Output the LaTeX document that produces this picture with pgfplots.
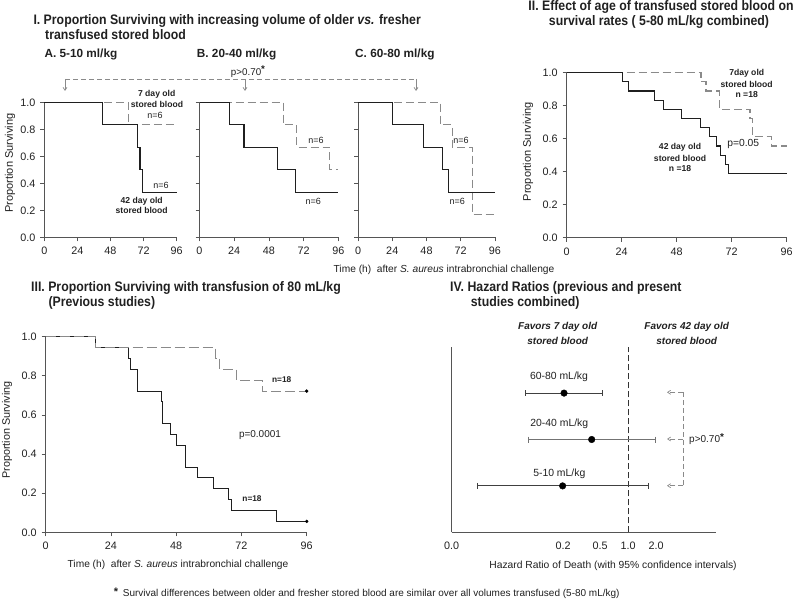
\documentclass[border=0pt]{standalone}
\usepackage{fontspec}
\setmainfont{Liberation Sans}
\usepackage{pgfplots}
\pgfplotsset{compat=1.18}
\usetikzlibrary{arrows.meta}
\definecolor{axgray}{HTML}{555555}
\definecolor{dgray}{HTML}{8A8A8A}
\definecolor{txt}{HTML}{202020}
\newcommand{\fT}{\fontsize{12.3}{14}\selectfont\bfseries}
\newcommand{\fS}{\fontsize{11.8}{14}\selectfont\bfseries}
\newcommand{\fL}{\fontsize{10.4}{12}\selectfont}
\newcommand{\fB}{\fontsize{8.6}{10}\selectfont\bfseries}
\newcommand{\fN}{\fontsize{9}{10}\selectfont}
\tikzset{ttl/.style={text=txt, inner sep=0, yscale=1.12, transform shape}}
\pgfplotsset{
 base/.style={
  scale only axis, anchor=south west, axis lines=left,
  axis line style={draw=axgray, line width=0.8pt, -},
  tick style={draw=axgray, line width=0.7pt}, tick align=outside, major tick length=4pt,
  ticklabel style={font=\fontsize{10.8}{12}\selectfont, text=txt},
  /pgf/number format/assume math mode=true,
  clip=false,
 },
 km/.style={base,
  xmin=0,xmax=96,ymin=0,ymax=1,
  xtick={0,24,48,72,96}, xticklabels={0,24,48,72,96},
  ytick={0,0.2,0.4,0.6,0.8,1},
  xticklabel style={yshift=-2.5pt},
  yticklabel style={xshift=-1.5pt},
 },
 solidkm/.style={const plot, draw=black!88, line width=1.1pt},
 dashkm/.style={const plot, draw=dgray, line width=1.1pt, dash pattern=on 8pt off 4pt},
}
\begin{document}
\begin{tikzpicture}[x=1pt,y=1pt]
\useasboundingbox (0pt,0pt) rectangle (800pt,602pt);

% ---------- Panel I-A
\begin{axis}[km, at={(44.3pt,364.7pt)}, width=132.4pt, height=135pt,
  yticklabels={0.0,0.2,0.4,0.6,0.8,1.0}]
\addplot[dashkm] coordinates {(0,1)(61,0.833)(96,0.833)};
\addplot[solidkm] coordinates {(0,1)(42,0.833)(67.5,0.667)(69.4,0.5)(70.9,0.333)(96,0.333)};
\end{axis}
% ---------- Panel I-B
\begin{axis}[km, at={(199.5pt,364.7pt)}, width=138.8pt, height=135pt, yticklabels={}]
\addplot[dashkm] coordinates {(0,1)(57.8,0.833)(67,0.667)(89.8,0.5)(96,0.5)};
\addplot[solidkm] coordinates {(0,1)(20.8,0.833)(30.8,0.667)(53.9,0.5)(66.4,0.333)(96,0.333)};
\end{axis}
% ---------- Panel I-C
\begin{axis}[km, at={(358pt,364.7pt)}, width=137pt, height=135pt, yticklabels={}]
\addplot[dashkm] coordinates {(0,1)(58,0.833)(66.1,0.667)(80.4,0.167)(96,0.167)};
\addplot[solidkm] coordinates {(0,1)(24,0.833)(45.8,0.667)(59.3,0.5)(63.3,0.333)(96,0.333)};
\end{axis}
% ---------- Panel II
\begin{axis}[km, at={(566.7pt,364.3pt)}, width=220pt, height=165pt,
  yticklabels={0.0,0.2,0.4,0.6,0.8,1.0}]
\addplot[dashkm] coordinates {(0,1)(58.6,0.944)(60.8,0.889)(66.6,0.778)(80,0.722)(81,0.611)(89.5,0.556)(96,0.556)};
\addplot[solidkm] coordinates {(0,1)(24.3,0.944)(27,0.889)(38.4,0.833)(42.3,0.778)(49.9,0.722)(58.5,0.667)(62.5,0.611)(65.5,0.556)(67.3,0.5)(69.2,0.444)(70.5,0.389)(96,0.389)};
\end{axis}
% ---------- Panel III
\begin{axis}[km, at={(45.7pt,69.7pt)}, width=261pt, height=195.6pt,
  yticklabels={0.0,0.2,0.4,0.6,0.8,1.0}]
\addplot[solidkm] coordinates {(0,1)(18.4,0.944)(30.4,0.889)(31.3,0.833)(33.7,0.722)(42.5,0.667)(43.1,0.556)(45.9,0.5)(48,0.444)(51.5,0.333)(55.9,0.278)(61.8,0.222)(67.4,0.167)(68.2,0.111)(85,0.056)(96,0.056)};
\addplot[dashkm, dash pattern=on 10pt off 4pt] coordinates {(0,1)(18.2,0.944)(62.6,0.889)(63.9,0.833)(70.3,0.778)(79.7,0.722)(96,0.722)};
\addplot[only marks, mark=*, mark size=1.5pt, black] coordinates {(96,0.722)(96,0.056)};
\end{axis}
% ---------- Panel IV
\begin{axis}[base, at={(451.7pt,69.7pt)}, width=264.3pt, height=185.6pt,
  xmode=log, xmin=0.01257, xmax=8.85, ymin=0, ymax=4,
  ytick=\empty, xtick={0.01257,0.2,0.5,1,2}, xticklabels={0.0,0.2,0.5,1.0,2.0},
  major tick length=0pt, xticklabel style={yshift=-6pt}]
\draw[black!80, line width=0.8pt, dash pattern=on 6pt off 3pt] (axis cs:1,0) -- (axis cs:1,4);
\addplot[black!75, line width=0.8pt, mark=|, mark size=3pt] coordinates {(0.0788,3)(0.527,3)};
\addplot[black!55, line width=0.8pt, mark=|, mark size=3pt] coordinates {(0.0849,2)(1.96,2)};
\addplot[black!75, line width=0.8pt, mark=|, mark size=3pt] coordinates {(0.0239,1)(1.65,1)};
\addplot[only marks, mark=*, mark size=3.3pt, black] coordinates {(0.204,3)(0.405,2)(0.197,1)};
\end{axis}

% ---------- Titles
\node[anchor=west, ttl] at (33.3,581.3) {\fT I. Proportion Surviving with increasing volume of older \textit{vs.} fresher};
\node[anchor=west, ttl] at (45,567) {\fT transfused stored blood};
\node[ttl] at (661,595.3) {\fT II. Effect of age of transfused stored blood on};
\node[ttl] at (659,580.3) {\fT survival rates ( 5-80 mL/kg combined)};
\node[anchor=west, ttl] at (31,313.7) {\fT III. Proportion Surviving with transfusion of 80 mL/kg};
\node[anchor=west, ttl] at (48.3,298.7) {\fT (Previous studies)};
\node[anchor=west, ttl] at (450,313.7) {\fT IV. Hazard Ratios (previous and present};
\node[anchor=west, ttl] at (470.7,299) {\fT studies combined)};
\node[anchor=west, text=txt, inner sep=0] at (44.3,548) {\fS A. 5-10 ml/kg};
\node[anchor=west, text=txt, inner sep=0] at (196.7,548) {\fS B. 20-40 ml/kg};
\node[anchor=west, text=txt, inner sep=0] at (355,548) {\fS C. 60-80 ml/kg};

% ---------- top bracket
\draw[dgray, line width=0.8pt, dash pattern=on 5pt off 3pt] (65,523) -- (416,523);
\foreach \xx in {65,245,416} \draw[dgray, line width=0.7pt, -{Straight Barb[length=3pt,width=4pt]}] (\xx,523) -- (\xx,511);
\node[text=txt, inner sep=0] at (248,530.3) {\fontsize{9.8}{11}\selectfont p>0.70\raisebox{2.5pt}{\bfseries *}};

% ---------- labels panel I
\node[rotate=90, text=txt, inner sep=0] at (10,439) {\fontsize{11}{12}\selectfont Proportion Surviving};
\node[text=txt, inner sep=0] at (156.7,508) {\fB 7 day old};
\node[text=txt, inner sep=0] at (157,498) {\fB stored blood};
\node[text=txt, inner sep=0] at (155,487) {\fN n=6};
\node[text=txt, inner sep=0] at (161,416.3) {\fN n=6};
\node[text=txt, inner sep=0] at (141.7,400.3) {\fB 42 day old};
\node[text=txt, inner sep=0] at (141.7,391.3) {\fB stored blood};
\node[text=txt, inner sep=0] at (316,462) {\fN n=6};
\node[text=txt, inner sep=0] at (313.3,400.3) {\fN n=6};
\node[text=txt, inner sep=0] at (461,462) {\fN n=6};
\node[text=txt, inner sep=0] at (457.3,400.3) {\fN n=6};
\node[text=txt, inner sep=0] at (444,332) {\fontsize{10.2}{12}\selectfont Time (h)\ \ after \textit{S. aureus} intrabronchial challenge};

% ---------- labels panel II
\node[rotate=90, text=txt, inner sep=0] at (528,450.3) {\fontsize{11}{12}\selectfont Proportion Surviving};
\node[text=txt, inner sep=0] at (746.7,528.7) {\fB 7day old};
\node[text=txt, inner sep=0] at (746.7,518) {\fB stored blood};
\node[text=txt, inner sep=0] at (746.7,507.7) {\fB n =18};
\node[text=txt, inner sep=0] at (680,454.3) {\fB 42 day old};
\node[text=txt, inner sep=0] at (680,444) {\fB stored blood};
\node[text=txt, inner sep=0] at (680,433.3) {\fB n =18};
\node[text=txt, inner sep=0] at (743.3,458) {\fontsize{10.3}{12}\selectfont p=0.05};

% ---------- labels panel III
\node[rotate=90, text=txt, inner sep=0] at (7,172) {\fontsize{10.8}{12}\selectfont Proportion Surviving};
\node[text=txt, inner sep=0] at (260,167) {\fontsize{10}{12}\selectfont p=0.0001};
\node[text=txt, inner sep=0] at (281.7,222) {\fontsize{8.3}{10}\selectfont\bfseries n=18};
\node[text=txt, inner sep=0] at (252,103) {\fontsize{8.3}{10}\selectfont\bfseries n=18};
\node[text=txt, inner sep=0] at (178,37) {\fontsize{10.2}{12}\selectfont Time (h)\ \ after \textit{S. aureus} intrabronchial challenge};

% ---------- labels panel IV
\node[text=txt, inner sep=0] at (557.7,275) {\fontsize{10}{12}\selectfont\bfseries\itshape Favors 7 day old};
\node[text=txt, inner sep=0] at (557.7,261) {\fontsize{10}{12}\selectfont\bfseries\itshape stored blood};
\node[text=txt, inner sep=0] at (686.7,275) {\fontsize{10}{12}\selectfont\bfseries\itshape Favors 42 day old};
\node[text=txt, inner sep=0] at (686.7,261) {\fontsize{10}{12}\selectfont\bfseries\itshape stored blood};
\node[text=txt, inner sep=0] at (559,225.3) {\fontsize{10.4}{12}\selectfont 60-80 mL/kg};
\node[text=txt, inner sep=0] at (559.3,178) {\fontsize{10.4}{12}\selectfont 20-40 mL/kg};
\node[text=txt, inner sep=0] at (559.3,128) {\fontsize{10.4}{12}\selectfont 5-10 mL/kg};
\foreach \yy in {209.7,163,116.3} \draw[dgray, line width=0.7pt, dash pattern=on 5pt off 3pt, -{Straight Barb[length=3pt,width=4pt]}] (683.3,\yy) -- (667,\yy);
\draw[dgray, line width=0.7pt, dash pattern=on 5pt off 3pt] (683.3,209.7) -- (683.3,116.3);
\node[anchor=west, text=txt, inner sep=0] at (689,163) {\fontsize{10}{12}\selectfont p>0.70\raisebox{2.5pt}{\bfseries *}};
\node[text=txt, inner sep=0] at (613,36.3) {\fontsize{10.3}{12}\selectfont Hazard Ratio of Death (with 95\% confidence intervals)};

% ---------- footnote
\node[text=txt, inner sep=0] at (116,10.3) {\fontsize{11}{12}\selectfont\bfseries *};
\node[anchor=west, text=txt, inner sep=0] at (122.7,7.7) {\fontsize{10}{12}\selectfont Survival differences between older and fresher stored blood are similar over all volumes transfused (5-80 mL/kg)};
\end{tikzpicture}
\end{document}
